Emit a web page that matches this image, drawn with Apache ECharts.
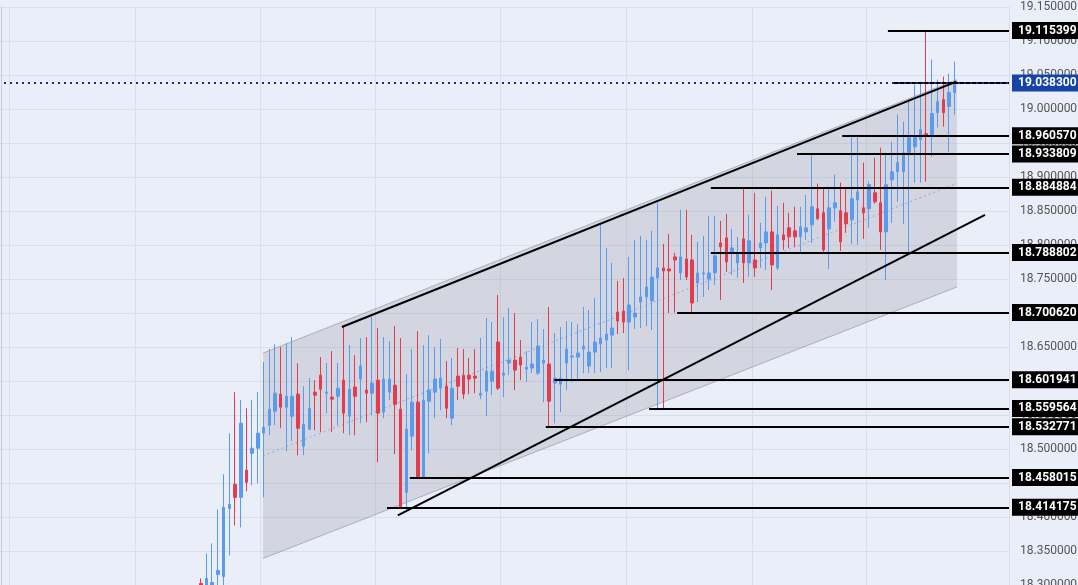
<!DOCTYPE html>
<html><head><meta charset="utf-8">
<script src="https://cdn.jsdelivr.net/npm/echarts@6/dist/echarts.min.js"></script>
<style>html,body{margin:0;padding:0;background:#eaeef8}#c{width:1078px;height:585px}</style>
</head><body><div id="c"></div>
<script>
var openP=[18.3022,18.2919,18.2949,18.3155,18.3125,18.4127,18.4481,18.4289,18.4687,18.4937,18.5011,18.5232,18.5350,18.5556,18.5807,18.5615,18.5482,18.5807,18.5041,18.5291,18.5836,18.6086,18.5821,18.5762,18.5777,18.6013,18.5482,18.5910,18.6028,18.5866,18.5821,18.6013,18.5541,18.5836,18.5939,18.5586,18.4363,18.5188,18.5689,18.4584,18.5703,18.5836,18.5895,18.5924,18.5453,18.6072,18.6086,18.6086,18.6072,18.5792,18.5851,18.5998,18.6573,18.6086,18.6263,18.6307,18.6352,18.6175,18.6190,18.6116,18.6263,18.6249,18.5969,18.5954,18.6263,18.6352,18.6352,18.6470,18.6219,18.6425,18.6543,18.6602,18.6676,18.7014,18.7029,18.6867,18.6941,18.7162,18.7236,18.7177,18.7515,18.7663,18.7648,18.7825,18.7589,18.7795,18.7781,18.7442,18.7574,18.7501,18.7589,18.8031,18.8105,18.7884,18.7737,18.8090,18.7737,18.7781,18.7957,18.8031,18.8193,18.7663,18.8149,18.8252,18.8208,18.8120,18.8193,18.8296,18.8532,18.8473,18.8237,18.8547,18.8503,18.8473,18.8370,18.8665,18.8547,18.8532,18.8768,18.8620,18.8193,18.8959,18.9077,18.9077,18.9357,18.9445,18.9548,18.9637,18.9622,18.9946,19.0138,19.0035,19.0241];
var closeP=[18.2949,18.3096,18.3037,18.3214,18.4142,18.4186,18.4289,18.5379,18.4510,18.5011,18.5232,18.5320,18.5586,18.5821,18.5615,18.5777,18.5777,18.5306,18.5365,18.5600,18.5792,18.5880,18.5836,18.5733,18.5895,18.5527,18.5880,18.5777,18.6219,18.5821,18.5969,18.5527,18.6028,18.6028,18.5659,18.4127,18.5291,18.5689,18.4584,18.5718,18.5866,18.6028,18.6042,18.5600,18.5895,18.5924,18.5807,18.6028,18.6042,18.5821,18.6145,18.6145,18.5895,18.6116,18.6307,18.6160,18.6234,18.6204,18.6249,18.6514,18.6307,18.5703,18.6042,18.6042,18.6470,18.6366,18.6411,18.6514,18.6425,18.6573,18.6632,18.6691,18.6779,18.6882,18.6867,18.7118,18.6999,18.7236,18.7383,18.7530,18.7663,18.7619,18.7619,18.7781,18.7825,18.7530,18.7147,18.7589,18.7589,18.7589,18.7840,18.7972,18.7751,18.7957,18.7884,18.7737,18.8061,18.7663,18.8031,18.8193,18.7707,18.8149,18.8075,18.8120,18.8120,18.8267,18.8252,18.8562,18.8385,18.7928,18.8547,18.8620,18.8046,18.8311,18.8679,18.8782,18.8473,18.8889,18.8635,18.8193,18.8886,18.9077,18.9210,18.9357,18.9578,18.9593,18.9696,18.9607,18.9932,19.0108,18.9946,19.0241,19.0383];
var highP=[18.3096,18.3464,18.3612,18.4112,18.4628,18.5232,18.5836,18.5718,18.5600,18.5718,18.5836,18.6278,18.6470,18.6543,18.6499,18.6558,18.6646,18.6263,18.5924,18.6042,18.6013,18.6352,18.6263,18.6440,18.6263,18.6794,18.6528,18.6381,18.6632,18.6646,18.6941,18.6779,18.6646,18.6587,18.6808,18.6632,18.6101,18.6470,18.6735,18.6528,18.6676,18.6499,18.6617,18.6293,18.6337,18.6484,18.6470,18.6337,18.6470,18.6632,18.6926,18.6867,18.7265,18.6941,18.7073,18.6999,18.6602,18.6440,18.6867,18.6911,18.6764,18.7088,18.6705,18.6794,18.6882,18.6867,18.6838,18.7088,18.7044,18.7221,18.8326,18.7957,18.7737,18.7471,18.7515,18.7825,18.8075,18.8134,18.8075,18.8208,18.8620,18.8016,18.8164,18.7884,18.8517,18.8517,18.8149,18.8046,18.8134,18.8429,18.8429,18.8355,18.8458,18.8237,18.8120,18.8849,18.8444,18.8768,18.8326,18.8709,18.8797,18.8576,18.8620,18.8473,18.8562,18.8562,18.8738,18.9338,18.8903,18.8830,18.8856,18.9036,18.8918,18.8841,18.9606,18.9622,18.9210,18.8933,18.9283,18.9431,18.9357,18.9519,18.9917,18.9814,19.0108,19.0359,19.0374,19.1154,19.0727,19.0432,19.0477,19.0521,19.0698];
var lowP=[18.2919,18.2890,18.2919,18.2993,18.2993,18.3435,18.3877,18.3847,18.4378,18.4466,18.4495,18.4289,18.5203,18.5350,18.5306,18.4967,18.5114,18.4908,18.4908,18.5276,18.5276,18.5247,18.5527,18.5247,18.5350,18.5232,18.5203,18.5203,18.5379,18.5394,18.5497,18.4805,18.5453,18.5718,18.4923,18.4142,18.4080,18.4982,18.4580,18.4580,18.4937,18.5453,18.5571,18.5453,18.5350,18.5718,18.5733,18.5807,18.5821,18.5733,18.5482,18.5792,18.5866,18.5762,18.6086,18.5866,18.6013,18.5983,18.6116,18.6086,18.5689,18.5328,18.5379,18.5541,18.5866,18.5983,18.6028,18.6116,18.6116,18.6116,18.6131,18.6190,18.6190,18.6691,18.6705,18.6160,18.6764,18.6779,18.6808,18.6750,18.5596,18.5571,18.6999,18.7006,18.7486,18.7486,18.6999,18.7162,18.7236,18.7339,18.7412,18.7191,18.7604,18.7560,18.7515,18.7442,18.7530,18.7530,18.7663,18.7633,18.7339,18.7633,18.7928,18.7957,18.7972,18.7899,18.8075,18.8031,18.8370,18.7899,18.7648,18.8340,18.7913,18.8178,18.8016,18.8002,18.8090,18.8252,18.8606,18.7928,18.7486,18.8326,18.8635,18.8311,18.7888,18.8915,18.8915,18.8933,18.9298,18.9725,18.9740,18.9372,18.9917];
var levels=[19.115399,18.960570,18.933809,18.884884,18.788802,18.700620,18.601941,18.559564,18.532771,18.458015,18.414175];
var levelStart=[155.3,147.3,139.4,124.3,124.3,118.4,96.9,113.5,95.4,71.6,67.6];
var lastPrice=19.038300, lastStart=156.2;
var channel=[[45.9,18.6411],[167.4,19.0432],[167.4,18.7383],[45.9,18.3390]];
var upperLine=[[59.7,18.6794],[167.3,19.0403]];
var lowerLine=[[69.5,18.4024],[172.3,18.8444]];
var vGrid=[2,24,46,66,88,110,132,152];
var N=177, OFF=35;

var cats=[],candles=[];
for(var i=0;i<N;i++){cats.push(i);var k=i-OFF;
 candles.push(k>=0&&k<openP.length?[openP[k],closeP[k],lowP[k],highP[k]]:'-');}
var XMAX=N-0.5;
var mlData=levels.map(function(v,i){return [{coord:[levelStart[i],v],name:v.toFixed(6)},{coord:[XMAX,v]}];});
mlData.push([{coord:[lastStart,lastPrice],name:'',label:{show:false}},{coord:[XMAX,lastPrice]}]);
var chart=echarts.init(document.getElementById('c'));
chart.setOption({
 backgroundColor:'#eaeef8',animation:false,
 grid:{left:-2,width:1011,top:7,height:578,outerBoundsMode:'none',containLabel:false},
 xAxis:[{type:'category',data:cats,boundaryGap:true,axisLabel:{show:false},axisTick:{show:false},axisLine:{show:false},
   splitLine:{show:true,interval:function(i){return vGrid.indexOf(i)>=0;},lineStyle:{color:'#d9dee9'}}},
  {type:'value',min:-0.5,max:XMAX,show:false}],
 yAxis:{type:'value',position:'right',min:18.3,max:19.15,interval:0.05,
   axisLabel:{formatter:function(v){return v.toFixed(6);},color:'#555',fontSize:12,fontFamily:'Roboto, sans-serif',margin:11},
   axisLine:{show:true,lineStyle:{color:'#c8ccd6'}},axisTick:{show:false},
   splitLine:{lineStyle:{color:'#d9dee9'}}},
 series:[
  {type:'custom',xAxisIndex:1,data:[0],silent:true,z:1,renderItem:function(p,api){
     var pts=channel.map(function(c){return api.coord(c);});
     var mid1=api.coord([channel[0][0],(channel[0][1]+channel[3][1])/2]);
     var mid2=api.coord([channel[1][0],(channel[1][1]+channel[2][1])/2]);
     return {type:'group',children:[
      {type:'polygon',shape:{points:pts},style:{fill:'rgba(150,152,165,0.28)'}},
      {type:'line',shape:{x1:pts[0][0],y1:pts[0][1],x2:pts[1][0],y2:pts[1][1]},style:{stroke:'rgba(140,140,150,0.6)',lineWidth:1}},
      {type:'line',shape:{x1:pts[3][0],y1:pts[3][1],x2:pts[2][0],y2:pts[2][1]},style:{stroke:'rgba(140,140,150,0.6)',lineWidth:1}},
      {type:'line',shape:{x1:mid1[0],y1:mid1[1],x2:mid2[0],y2:mid2[1]},style:{stroke:'#8fa7d8',lineWidth:1,lineDash:[2,3]}}
     ]};}},
  {type:'candlestick',xAxisIndex:0,data:candles,barWidth:3,z:3,
   itemStyle:{color:'#5b9bec',color0:'#e33c4f',borderColor:'#5b9bec',borderColor0:'#e33c4f',borderWidth:1}},
  {type:'line',xAxisIndex:1,data:[[0,18.7]],z:5,symbol:'none',lineStyle:{opacity:0},
   markLine:{silent:true,symbol:'none',animation:false,
    lineStyle:{color:'#000',width:2,type:'solid'},
    label:{show:true,position:'end',distance:3,formatter:'{b}',
      backgroundColor:'#000',color:'#fff',fontWeight:'bold',fontSize:12,fontFamily:'Roboto, sans-serif',padding:[3,5,2,6]},
    data:mlData.concat([
     [{coord:[-0.5,lastPrice],name:lastPrice.toFixed(6),lineStyle:{color:'#1b2d8c',width:2,type:[2,4]},label:{backgroundColor:'#1643a8'}},{coord:[XMAX,lastPrice]}],
     [{coord:upperLine[0],name:'',label:{show:false}},{coord:upperLine[1]}],
     [{coord:lowerLine[0],name:'',label:{show:false}},{coord:lowerLine[1]}]
    ])}}
 ]
});
</script></body></html>
